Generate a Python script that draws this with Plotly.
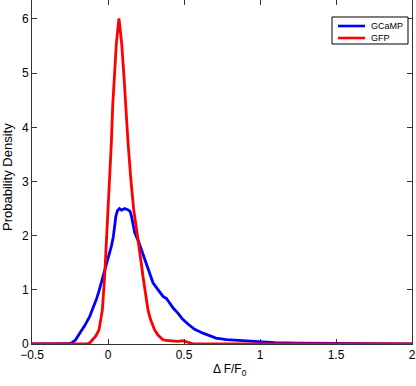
import plotly.graph_objects as go

# GCaMP (blue) probability density
gcamp_x = [-0.5, -0.3, -0.26, -0.24, -0.215, -0.186, -0.155, -0.12, -0.1, -0.077, -0.06, -0.044, -0.028,
           -0.011, 0.005, 0.022, 0.035, 0.044, 0.052, 0.062, 0.075, 0.09, 0.11, 0.13, 0.145, 0.155, 0.165,
           0.176, 0.2, 0.22, 0.24, 0.257, 0.275, 0.296, 0.33, 0.362, 0.385, 0.406, 0.43, 0.46, 0.49,
           0.53, 0.57, 0.625, 0.67, 0.71, 0.78, 0.87, 0.95, 1.0, 1.1, 1.26, 1.48, 1.7, 2.0]
gcamp_y = [0.0, 0.0, 0.005, 0.02, 0.07, 0.2, 0.33, 0.51, 0.65, 0.82, 0.97, 1.13, 1.28,
           1.43, 1.6, 1.8, 1.98, 2.18, 2.36, 2.46, 2.5, 2.47, 2.5, 2.48, 2.45, 2.35, 2.2,
           2.05, 1.9, 1.74, 1.58, 1.43, 1.28, 1.13, 1.0, 0.88, 0.84, 0.76, 0.66, 0.57, 0.46,
           0.36, 0.27, 0.2, 0.15, 0.11, 0.08, 0.065, 0.045, 0.035, 0.025, 0.015, 0.008, 0.005, 0.003]

# GFP (red) probability density
gfp_x = [-0.5, -0.2, -0.14, -0.12, -0.099, -0.08, -0.059, -0.047, -0.037, -0.022, -0.01, 0.0, 0.011,
         0.022, 0.031, 0.04, 0.055, 0.072, 0.09, 0.105, 0.118, 0.132, 0.15, 0.169, 0.186, 0.202, 0.216,
         0.23, 0.247, 0.263, 0.28, 0.296, 0.307, 0.33, 0.362, 0.38, 0.42, 0.46, 0.49, 0.51, 0.53,
         0.56, 0.6, 2.0]
gfp_y = [0.0, 0.0, 0.0, 0.02, 0.08, 0.15, 0.26, 0.45, 0.63, 1.25, 1.9, 2.48, 3.1,
         3.71, 4.4, 4.94, 5.55, 6.01, 5.55, 4.94, 4.3, 3.71, 3.05, 2.48, 2.15, 1.86, 1.55,
         1.25, 0.95, 0.63, 0.45, 0.34, 0.26, 0.16, 0.08, 0.065, 0.055, 0.05, 0.06, 0.045, 0.02,
         0.004, 0.0, 0.0]

x_ticks = [-0.5, 0, 0.5, 1, 1.5, 2]
y_ticks = [0, 1, 2, 3, 4, 5, 6]
series_names = ["GCaMP", "GFP"]
series_colors = ["#0000FF", "#FF0000"]
x_title = "Δ F/F<sub>0</sub>"
y_title = "Probability Density"

FONT = "Liberation Sans, Arial"

fig = go.Figure()
fig.add_trace(go.Scatter(x=gcamp_x, y=gcamp_y, mode="lines", name=series_names[0],
                         line=dict(color=series_colors[0], width=2.8)))
fig.add_trace(go.Scatter(x=gfp_x, y=gfp_y, mode="lines", name=series_names[1],
                         line=dict(color=series_colors[1], width=2.8)))

axis_common = dict(showline=True, mirror="ticks", linecolor="#333333", linewidth=1,
                   ticks="inside", ticklen=5, tickcolor="#333333", showgrid=False,
                   zeroline=False, tickfont=dict(family=FONT, size=12, color="black"))

# compact MATLAB-style legend box (paper coordinates)
shapes = [dict(type="rect", xref="paper", yref="paper", x0=0.7895, x1=0.9895, y0=0.8721, y1=0.9506,
               line=dict(color="black", width=1), fillcolor="white", layer="above")]
annotations = []
legend_rows = [0.9244, 0.8895]
for name, color, yy in zip(series_names, series_colors, legend_rows):
    shapes.append(dict(type="line", xref="paper", yref="paper", x0=0.8053, x1=0.8763, y0=yy, y1=yy,
                       line=dict(color=color, width=2.6), layer="above"))
    annotations.append(dict(text=name, xref="paper", yref="paper", x=0.8868, y=yy,
                            xanchor="left", yanchor="middle", showarrow=False,
                            font=dict(family=FONT, size=9, color="black")))

# axis titles placed as in the reference
annotations.append(dict(text=x_title, xref="paper", yref="paper", x=0.52, y=-0.0756,
                        xanchor="center", yanchor="middle", showarrow=False,
                        font=dict(family=FONT, size=12, color="black")))
annotations.append(dict(text=y_title, xref="paper", yref="paper", x=-0.0632, y=0.4855,
                        xanchor="center", yanchor="middle", showarrow=False, textangle=-90,
                        font=dict(family=FONT, size=13, color="black")))

fig.update_layout(
    width=416, height=386,
    margin=dict(l=32, r=4, t=0, b=42, autoexpand=False),
    plot_bgcolor="white", paper_bgcolor="white",
    xaxis=dict(range=[-0.5, 2], tickvals=x_ticks, **axis_common),
    yaxis=dict(range=[0, 6.35], tickvals=y_ticks, **axis_common),
    shapes=shapes,
    annotations=annotations,
    showlegend=False,
)

fig.write_html("out.html", config={"displayModeBar": False},
               post_script="document.body.style.margin='0';document.body.style.padding='0';")
